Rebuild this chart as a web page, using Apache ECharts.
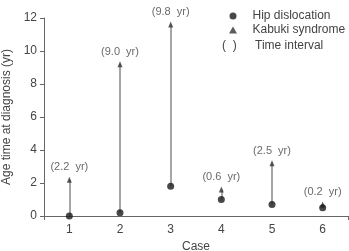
<!DOCTYPE html>
<html>
<head>
<meta charset="utf-8">
<script src="https://cdn.jsdelivr.net/npm/echarts@6/dist/echarts.min.js"></script>
<style>
  html, body { margin: 0; padding: 0; background: #fff; }
  #chart { width: 349px; height: 251px; }
</style>
</head>
<body>
<div id="chart"></div>
<script>
// case numbers on the x axis
const cases = [1, 2, 3, 4, 5, 6];
// age (yr) at diagnosis of hip dislocation
const hipAge = [0, 0.2, 1.8, 1.0, 0.7, 0.5];
// age (yr) at diagnosis of Kabuki syndrome
const kabukiAge = [2.2, 9.2, 11.6, 1.6, 3.2, 0.7];
// time interval labels
const intervals = ['2.2', '9.0', '9.8', '0.6', '2.5', '0.2'];
const yTicks = [0, 2, 4, 6, 8, 10, 12];

const textColor = '#444';
const axisColor = '#666';
const font = 'Liberation Sans, Arial, sans-serif';

let myChart = echarts.init(document.getElementById('chart'));

const lineData = cases.map((c, i) => ({ coords: [[c, hipAge[i]], [c, kabukiAge[i]]] }));

let option = {
  animation: false,
  textStyle: { fontFamily: font },
  grid: { left: 44, right: 1, top: 18, bottom: 35, outerBoundsMode: 'none', containLabel: false },
  legend: {
    orient: 'vertical',
    left: 229,
    top: 10,
    padding: 0,
    itemWidth: 8,
    itemHeight: 7,
    itemGap: 2,
    textStyle: { color: textColor, fontSize: 12, fontFamily: font, padding: [0, 0, 0, 10.5] },
    data: [
      { name: 'Hip dislocation', icon: 'circle' },
      { name: 'Kabuki syndrome', icon: 'triangle' }
    ]
  },
  graphic: [
    { type: 'text', left: 222, top: 40, style: { text: '(  )', fill: textColor, font: '12px ' + font } },
    { type: 'text', left: 255, top: 40, style: { text: 'Time interval', fill: textColor, font: '12px ' + font } }
  ],
  xAxis: {
    type: 'value',
    min: 0.5,
    max: 6.5,
    name: 'Case',
    nameLocation: 'middle',
    nameGap: 25,
    nameTextStyle: { color: textColor, fontSize: 12 },
    splitLine: { show: false },
    axisLine: { show: true, lineStyle: { color: axisColor } },
    axisTick: { show: true, length: 4, customValues: [0.5, 6.5], lineStyle: { color: axisColor } },
    axisLabel: { customValues: cases, color: textColor, fontSize: 12, margin: 8 }
  },
  yAxis: {
    type: 'value',
    min: 0,
    max: 12,
    interval: 2,
    name: 'Age time at diagnosis (yr)',
    nameLocation: 'middle',
    nameGap: 30,
    nameTextStyle: { color: textColor, fontSize: 12 },
    splitLine: { show: false },
    axisLine: { show: true, lineStyle: { color: axisColor } },
    axisTick: { show: true, length: 4, lineStyle: { color: axisColor } },
    axisLabel: { customValues: yTicks, color: textColor, fontSize: 12, margin: 7 }
  },
  series: [
    {
      name: 'Time interval',
      type: 'lines',
      coordinateSystem: 'cartesian2d',
      silent: true,
      lineStyle: { color: '#888', width: 1.5, opacity: 1 },
      data: lineData,
      z: 1
    },
    {
      name: 'Kabuki syndrome',
      type: 'scatter',
      symbol: 'triangle',
      symbolSize: [5, 6],
      itemStyle: { color: '#333' },
      data: cases.map((c, i) => [c, kabukiAge[i]]),
      label: {
        show: true,
        position: 'top',
        distance: 4,
        color: textColor,
        fontSize: 11,
        formatter: p => '(' + intervals[p.dataIndex] + '  yr)'
      },
      z: 3
    },
    {
      name: 'Hip dislocation',
      type: 'scatter',
      symbol: 'circle',
      symbolSize: 7,
      itemStyle: { color: '#1a1a1a' },
      data: cases.map((c, i) => [c, hipAge[i]]),
      z: 4
    }
  ]
};

myChart.setOption(option);
</script>
</body>
</html>
